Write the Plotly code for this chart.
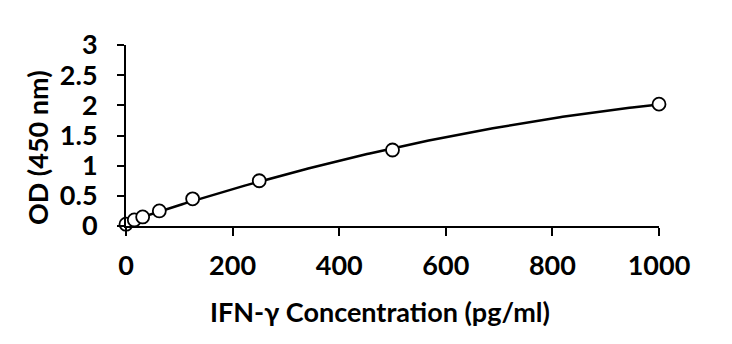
import numpy as np
import plotly.graph_objects as go

# Standard curve: IFN-γ concentration (pg/ml) vs optical density at 450 nm
concentration = [0, 15.6, 31.25, 62.5, 125, 250, 500, 1000]
od450 = [0.03, 0.10, 0.15, 0.25, 0.45, 0.75, 1.26, 2.02]

x_ticks = [0, 200, 400, 600, 800, 1000]
y_ticks = [0, 0.5, 1, 1.5, 2, 2.5, 3]
y_tick_text = ["0", "0.5", "1", "1.5", "2", "2.5", "3"]

x_title = "IFN-γ Concentration (pg/ml)"
y_title = "OD (450 nm)"

# Second-order polynomial trendline through the standards
coef = np.polyfit(concentration, od450, 2)
fit_x = np.linspace(0, 1000, 200)
fit_y = np.polyval(coef, fit_x)

FONT = "Lato"
title_font = dict(family=FONT, size=27, color="black", weight="bold")

fig = go.Figure()
fig.add_trace(go.Scatter(
    x=fit_x, y=fit_y, mode="lines",
    line=dict(color="black", width=2.5),
    hoverinfo="skip", cliponaxis=False,
))
fig.add_trace(go.Scatter(
    x=concentration, y=od450, mode="markers",
    marker=dict(symbol="circle", size=13, color="white",
                line=dict(color="black", width=1.8)),
    cliponaxis=False,
))

fig.update_layout(
    width=732, height=344,
    margin=dict(l=126, r=73, t=45, b=118),
    paper_bgcolor="white", plot_bgcolor="white",
    showlegend=False,
    font=dict(family=FONT, color="black"),
)
fig.update_xaxes(
    range=[0, 1000], tickvals=x_ticks,
    showline=True, linecolor="black", linewidth=2,
    ticks="outside", ticklen=8, tickwidth=2, tickcolor="black",
    ticklabelstandoff=7,
    showgrid=False, zeroline=False,
    tickfont=dict(family=FONT, size=27, color="black", weight="bold"),
)
fig.update_yaxes(
    range=[0, 3], tickvals=y_ticks, ticktext=y_tick_text,
    showline=True, linecolor="black", linewidth=2,
    ticks="outside", ticklen=7, tickwidth=2, tickcolor="black",
    ticklabelstandoff=14,
    showgrid=False, zeroline=False,
    tickfont=dict(family=FONT, size=27, color="black", weight="bold"),
)

# Axis titles placed as annotations
fig.add_annotation(
    text=x_title, xref="paper", yref="paper",
    x=0.4765, y=-0.475, xanchor="center", yanchor="middle",
    showarrow=False, font=title_font,
)
fig.add_annotation(
    text=y_title, xref="paper", yref="paper",
    x=-0.165, y=0.431, xanchor="center", yanchor="middle",
    textangle=-90, showarrow=False, font=title_font,
)

fig.write_html("out.html")
